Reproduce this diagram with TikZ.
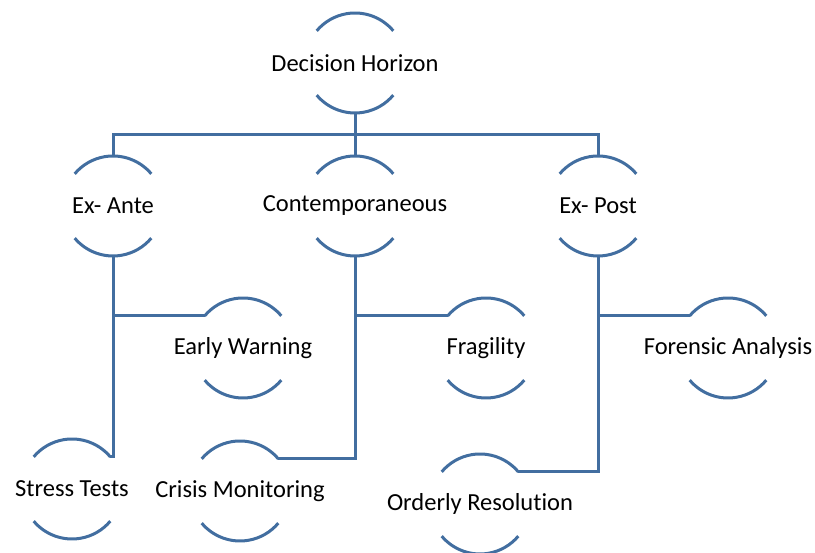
\documentclass[tikz,border=0pt]{standalone}
\usepackage{fontspec}
\setmainfont{Carlito}[Ligatures=NoCommon]
\usetikzlibrary{calc}
\definecolor{ringblue}{RGB}{66,110,160}
\tikzset{
  ring/.style={draw=ringblue,line width=3pt},
  link/.style={draw=ringblue,line width=3pt},
  lbl/.style={font=\fontsize{24.5}{29}\selectfont,inner sep=0pt}
}
% top and bottom arcs of a node, with named ends
\newcommand{\halfrings}[1]{%
  \coordinate (#1-n) at ($(#1)+(0,50)$);
  \coordinate (#1-s) at ($(#1)+(0,-50)$);
  \coordinate (#1-ne) at ($(#1)+(40:50)$);
  \coordinate (#1-nw) at ($(#1)+(140:50)$);
  \coordinate (#1-sw) at ($(#1)+(220:50)$);
  \draw[ring] (#1-ne) arc (40:140:50);
  \draw[ring] (#1-sw) arc (220:320:50);
}
\begin{document}
\begin{tikzpicture}[x=1pt,y=1pt]
\useasboundingbox (0,0) rectangle (815,553);
\node[lbl] (hor) at (355,490) {Decision Horizon};
\node[lbl] (ante) at (113,347) {Ex- Ante};
\node[lbl] (cont) at (355,347) {Contemporaneous};
\node[lbl] (post) at (598,347) {Ex- Post};
\node[lbl] (warn) at (243,205) {Early Warning};
\node[lbl] (frag) at (486,205) {Fragility};
\node[lbl] (foren) at (728,205) {Forensic Analysis};
\node[lbl] (stress) at (72,64) {Stress Tests};
\node[lbl] (crisis) at (240,62) {Crisis Monitoring};
\node[lbl] (orderly) at (480,49) {Orderly Resolution};
\foreach \n in {hor,ante,cont,post,warn,frag,foren,stress,crisis,orderly}
  \halfrings{\n};
% tree lines
\coordinate (bus) at (355,418);
\draw[link] (hor-s) -- (bus);
\draw[link] (ante-n) -- (ante-n |- bus) -- (post-n |- bus) -- (post-n);
\draw[link] (cont-n) -- (bus);
\draw[link] (ante-s) -- (ante-s |- stress-ne) -- (stress-ne);
\draw[link] (ante-s |- warn-nw) -- (warn-nw);
\draw[link] (cont-s) -- (cont-s |- crisis-ne) -- (crisis-ne);
\draw[link] (cont-s |- frag-nw) -- (frag-nw);
\draw[link] (post-s) -- (post-s |- orderly-ne) -- (orderly-ne);
\draw[link] (post-s |- foren-nw) -- (foren-nw);
\end{tikzpicture}
\end{document}
